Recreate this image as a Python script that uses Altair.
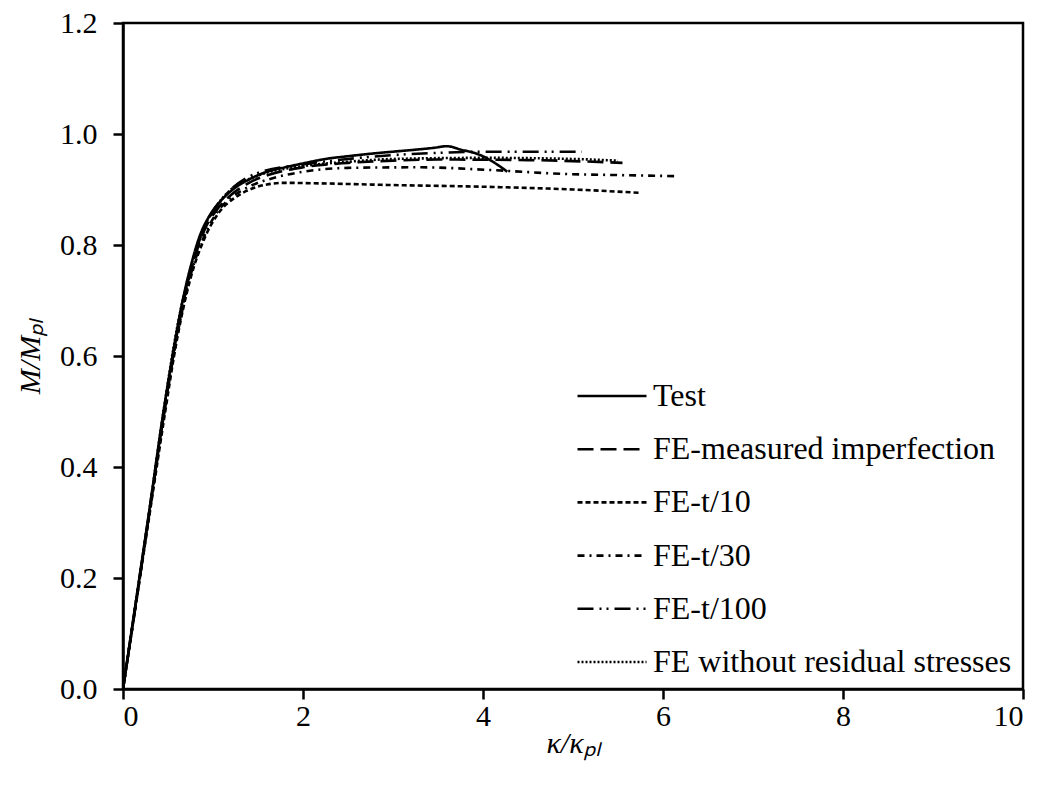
import altair as alt
import pandas as pd

series_names = ["Test", "FE-measured imperfection", "FE-t/10", "FE-t/30",
                "FE-t/100", "FE without residual stresses"]

test_x = [0, 0.15, 0.3, 0.45, 0.55, 0.65, 0.75, 0.85, 0.97, 1.1, 1.22, 1.4, 1.6, 1.8,
          2.0, 2.25, 2.5, 2.85, 3.2, 3.45, 3.6, 3.75, 3.97, 4.11, 4.27]
test_y = [0, 0.165, 0.33, 0.5, 0.6, 0.69, 0.76, 0.815, 0.855, 0.882, 0.9, 0.918, 0.932,
          0.94, 0.947, 0.955, 0.96, 0.966, 0.971, 0.975, 0.978, 0.972, 0.962, 0.95, 0.932]

meas_x = [0, 0.15, 0.3, 0.45, 0.6, 0.75, 0.9, 1.05, 1.2, 1.4, 1.7, 2.0, 2.5, 3.0, 3.5, 4.5, 5.55]
meas_y = [0, 0.16, 0.325, 0.49, 0.64, 0.75, 0.825, 0.865, 0.89, 0.912, 0.93, 0.94, 0.948,
          0.952, 0.954, 0.953, 0.948]

t10_x = [0, 0.15, 0.3, 0.45, 0.6, 0.75, 0.9, 1.05, 1.26, 1.41, 1.6, 1.8, 2.2, 3.0, 4.0, 5.0, 5.75]
t10_y = [0, 0.16, 0.32, 0.48, 0.63, 0.74, 0.81, 0.855, 0.887, 0.9, 0.909, 0.912, 0.911,
         0.908, 0.905, 0.9, 0.894]

t30_x = [0, 0.15, 0.3, 0.45, 0.6, 0.75, 0.9, 1.05, 1.2, 1.4, 1.7, 2.0, 2.5, 3.3, 4.1, 4.9, 5.5, 6.17]
t30_y = [0, 0.162, 0.325, 0.49, 0.635, 0.745, 0.815, 0.86, 0.885, 0.905, 0.922, 0.932, 0.939,
         0.94, 0.935, 0.928, 0.926, 0.924]

t100_x = [0, 0.15, 0.3, 0.45, 0.6, 0.75, 0.9, 1.05, 1.2, 1.5, 2.0, 2.5, 3.0, 3.5, 4.0, 4.5, 5.1]
t100_y = [0, 0.163, 0.328, 0.495, 0.645, 0.755, 0.83, 0.872, 0.9, 0.93, 0.945, 0.955, 0.962,
          0.966, 0.968, 0.968, 0.968]

nors_x = [0, 0.15, 0.3, 0.45, 0.6, 0.75, 0.9, 1.05, 1.2, 1.5, 2.0, 2.5, 3.0, 4.0, 5.0, 5.5]
nors_y = [0, 0.164, 0.33, 0.5, 0.65, 0.758, 0.832, 0.873, 0.9, 0.925, 0.942, 0.95, 0.955,
          0.957, 0.955, 0.952]

xs = [test_x, meas_x, t10_x, t30_x, t100_x, nors_x]
ys = [test_y, meas_y, t10_y, t30_y, t100_y, nors_y]

rows = []
for name, sx, sy in zip(series_names, xs, ys):
    for i, (a, b) in enumerate(zip(sx, sy)):
        rows.append({"series": name, "x": a, "y": b, "order": i})
df = pd.DataFrame(rows)

dashes = [[1, 0], [16, 7], [5, 3], [7, 5, 2, 5], [16, 6, 2, 5, 2, 6], [2, 2]]
widths = [2.6, 2.6, 2.3, 2.3, 2.6, 1.6]

FONT = "Liberation Serif"

chart = alt.Chart(df).mark_line(color="black", clip=True, interpolate="monotone").encode(
    x=alt.X("x:Q", scale=alt.Scale(domain=[0, 10], nice=False),
            axis=alt.Axis(values=[0, 2, 4, 6, 8, 10], format="d", title="κ/κₚₗ")),
    y=alt.Y("y:Q", scale=alt.Scale(domain=[0, 1.2], nice=False),
            axis=alt.Axis(values=[0, 0.2, 0.4, 0.6, 0.8, 1.0, 1.2], format=".1f", title="M/Mₚₗ")),
    detail="series:N",
    order="order:Q",
    strokeDash=alt.StrokeDash("series:N", scale=alt.Scale(domain=series_names, range=dashes),
                              legend=alt.Legend(title=None, orient="none", legendX=453, legendY=337,
                                                symbolType="stroke", symbolSize=4761,
                                                symbolStrokeColor="black",
                                                labelFont=FONT, labelFontSize=32,
                                                labelColor="black", labelOffset=5,
                                                rowPadding=1.2, labelLimit=600)),
    strokeWidth=alt.StrokeWidth("series:N", scale=alt.Scale(domain=series_names, range=widths),
                                legend=None),
).properties(
    width=900, height=666,
    autosize=alt.AutoSizeParams(type="none"),
    padding={"left": 115, "top": 15, "right": 15, "bottom": 85},
).configure_view(
    stroke="black", strokeWidth=2.5
).configure_axis(
    grid=False, domainColor="black", domainWidth=2.5, tickColor="black", tickWidth=2.5,
    tickSize=10, labelFont=FONT, labelFontSize=30, labelColor="black",
    titleFont=FONT, titleFontSize=30, titleFontStyle="italic", titleFontWeight="normal",
    titleColor="black"
).configure_axisX(labelPadding=2, titlePadding=-3).configure_axisY(labelPadding=16, titlePadding=14)

chart.save("out.html", embed_options={"renderer": "svg", "actions": False})
